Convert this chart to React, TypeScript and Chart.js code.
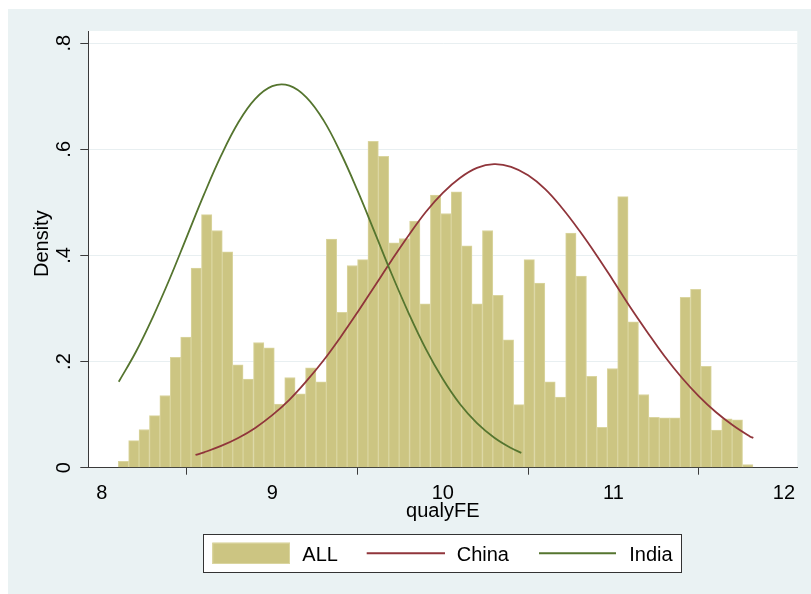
import React, { useEffect, useRef } from "react";
import { Chart, registerables } from "chart.js";

Chart.register(...registerables);

// ---- data ----
const binStart = 8.097;
const binWidth = 0.061;
const allDensity = [
  0.012, 0.051, 0.072, 0.098, 0.136, 0.208, 0.246, 0.376, 0.477, 0.447,
  0.407, 0.194, 0.167, 0.236, 0.226, 0.12, 0.17, 0.139, 0.188, 0.162,
  0.431, 0.293, 0.381, 0.392, 0.615, 0.587, 0.424, 0.432, 0.465, 0.309,
  0.514, 0.479, 0.52, 0.418, 0.309, 0.447, 0.325, 0.241, 0.119, 0.392,
  0.348, 0.162, 0.133, 0.442, 0.361, 0.172, 0.076, 0.187, 0.511, 0.275,
  0.138, 0.095, 0.094, 0.094, 0.321, 0.336, 0.191, 0.071, 0.092, 0.09,
  0.006,
];
const chinaX = [
  8.55, 8.6, 8.7, 8.8, 8.9, 9.0, 9.1, 9.2, 9.3, 9.4, 9.5, 9.6, 9.7, 9.8, 9.9,
  10.0, 10.1, 10.2, 10.3, 10.4, 10.5, 10.6, 10.7, 10.8, 10.9, 11.0, 11.1, 11.2,
  11.3, 11.4, 11.5, 11.6, 11.7, 11.8, 11.82,
];
const chinaY = [
  0.024, 0.029, 0.041, 0.056, 0.075, 0.099, 0.128, 0.163, 0.202, 0.246,
  0.293, 0.342, 0.391, 0.438, 0.482, 0.518, 0.546, 0.565, 0.572, 0.567,
  0.551, 0.525, 0.489, 0.447, 0.401, 0.352, 0.302, 0.255, 0.21, 0.17,
  0.135, 0.105, 0.08, 0.059, 0.056,
];
const indiaX = [
  8.1, 8.2, 8.3, 8.4, 8.5, 8.6, 8.7, 8.8, 8.9, 9.0, 9.1, 9.2, 9.3, 9.4, 9.5,
  9.6, 9.7, 9.8, 9.9, 10.0, 10.1, 10.2, 10.3, 10.4, 10.46,
];
const indiaY = [
  0.162, 0.218, 0.284, 0.357, 0.436, 0.515, 0.588, 0.65, 0.695, 0.719,
  0.72, 0.698, 0.655, 0.594, 0.522, 0.444, 0.365, 0.291, 0.224, 0.167,
  0.12, 0.084, 0.057, 0.037, 0.028,
];
const xTicks = [8, 9, 10, 11, 12];
const yTicks = [0, 0.2, 0.4, 0.6, 0.8];
const yTickLabels = ["0", ".2", ".4", ".6", ".8"];
const seriesLabels = ["ALL", "China", "India"];
const xTitle = "qualyFE";
const yTitle = "Density";

// ---- style ----
const FONT = '"Liberation Sans", Arial, Helvetica, sans-serif';
const barFill = "#ccc582";
const barEdge = "#dad59f";
const chinaColor = "#90353b";
const indiaColor = "#55752f";
const axisColor = "#3a3a3a";
const gridColor = "#e8eff1";

const stataPlugin = {
  id: "stataDecor",
  beforeDraw(chart: any) {
    const { ctx, chartArea: a } = chart;
    ctx.save();
    ctx.fillStyle = "#ffffff";
    ctx.fillRect(a.left, a.top, a.right - a.left, a.bottom - a.top);
    ctx.restore();
  },
  afterDraw(chart: any) {
    const { ctx, chartArea: a } = chart;
    const ys = chart.scales.y;
    ctx.save();
    ctx.fillStyle = "#000";
    ctx.font = `20px ${FONT}`;
    // y tick labels (rotated)
    yTicks.forEach((v, i) => {
      const py = ys.getPixelForValue(v);
      ctx.save();
      ctx.translate(56.5, py);
      ctx.rotate(-Math.PI / 2);
      ctx.textAlign = "center";
      ctx.textBaseline = "middle";
      ctx.fillText(yTickLabels[i], 0, 0);
      ctx.restore();
    });
    // y title
    ctx.save();
    ctx.translate(34.5, 234.7);
    ctx.rotate(-Math.PI / 2);
    ctx.textAlign = "center";
    ctx.textBaseline = "middle";
    ctx.fillText(yTitle, 0, 0);
    ctx.restore();
    // x title
    ctx.textAlign = "center";
    ctx.textBaseline = "alphabetic";
    ctx.fillText(xTitle, (a.left + a.right) / 2, 507.7);

    // legend
    const bx = 195.5, by = 525.5, bw = 478, bh = 38;
    ctx.fillStyle = "#fff";
    ctx.fillRect(bx, by, bw, bh);
    ctx.strokeStyle = "#333";
    ctx.lineWidth = 1;
    ctx.strokeRect(bx, by, bw, bh);
    const cy = 544.3;
    // ALL swatch
    ctx.fillStyle = barFill;
    ctx.fillRect(204.3, cy - 10.6, 77.7, 21.3);
    ctx.strokeStyle = barEdge;
    ctx.strokeRect(204.8, cy - 10.1, 76.7, 20.3);
    // lines
    ctx.lineWidth = 2;
    ctx.strokeStyle = chinaColor;
    ctx.beginPath();
    ctx.moveTo(358.7, cy);
    ctx.lineTo(437, cy);
    ctx.stroke();
    ctx.strokeStyle = indiaColor;
    ctx.beginPath();
    ctx.moveTo(531, cy);
    ctx.lineTo(608, cy);
    ctx.stroke();
    ctx.fillStyle = "#000";
    ctx.textAlign = "left";
    ctx.textBaseline = "alphabetic";
    ctx.font = `20px ${FONT}`;
    ctx.fillText(seriesLabels[0], 294.3, 552.3);
    ctx.fillText(seriesLabels[1], 448.7, 552.3);
    ctx.fillText(seriesLabels[2], 621.3, 552.3);
    ctx.restore();
  },
};

export default function App() {
  const ref = useRef<HTMLCanvasElement | null>(null);

  useEffect(() => {
    if (!ref.current) return;
    const barData = allDensity.map((v, i) => ({
      x: binStart + binWidth * (i + 0.5),
      y: v,
    }));
    const chart = new Chart(ref.current, {
      type: "bar",
      data: {
        datasets: [
          {
            type: "line",
            label: seriesLabels[2],
            data: indiaX.map((x, i) => ({ x, y: indiaY[i] })),
            borderColor: indiaColor,
            borderWidth: 1.8,
            pointRadius: 0,
            tension: 0.4,
            fill: false,
            order: 1,
          } as any,
          {
            type: "line",
            label: seriesLabels[1],
            data: chinaX.map((x, i) => ({ x, y: chinaY[i] })),
            borderColor: chinaColor,
            borderWidth: 1.8,
            pointRadius: 0,
            tension: 0.4,
            fill: false,
            order: 2,
          } as any,
          {
            type: "bar",
            label: seriesLabels[0],
            data: barData as any,
            backgroundColor: barFill,
            borderColor: barEdge,
            borderWidth: 1,
            barPercentage: 1,
            categoryPercentage: 1,
            order: 3,
          } as any,
        ],
      },
      options: {
        animation: false,
        responsive: false,
        devicePixelRatio: 1,
        layout: { padding: { left: 0, top: 22, right: 13.7, bottom: 0 } },
        plugins: {
          legend: { display: false },
          tooltip: { enabled: false },
        },
        scales: {
          x: {
            type: "linear",
            min: 7.9215,
            max: 12.078,
            offset: false,
            afterBuildTicks: (s: any) => {
              s.ticks = xTicks.map((v) => ({ value: v }));
            },
            afterFit: (s: any) => {
              s.height = 126.3;
            },
            grid: {
              drawOnChartArea: false,
              tickLength: 7,
              color: axisColor,
              tickColor: axisColor,
            },
            border: { color: axisColor, width: 1 },
            ticks: {
              font: { family: FONT, size: 20 },
              color: "#000",
              padding: 7,
              maxRotation: 0,
              autoSkip: false,
              callback: (v: any) => String(v),
            },
          },
          y: {
            type: "linear",
            min: 0,
            max: 0.823,
            afterBuildTicks: (s: any) => {
              s.ticks = yTicks.map((v) => ({ value: v }));
            },
            afterFit: (s: any) => {
              s.width = 80.3;
            },
            grid: {
              color: gridColor,
              tickColor: axisColor,
              tickLength: 8,
            },
            border: { color: axisColor, width: 1 },
            ticks: { display: false },
          },
        },
      } as any,
      plugins: [stataPlugin],
    });
    return () => chart.destroy();
  }, []);

  return (
    <div
      style={{
        position: "absolute",
        left: 8,
        top: 9,
        width: 803,
        height: 585,
        background: "#eaf2f3",
      }}
    >
      <canvas ref={ref} width={803} height={585} style={{ display: "block" }} />
    </div>
  );
}
